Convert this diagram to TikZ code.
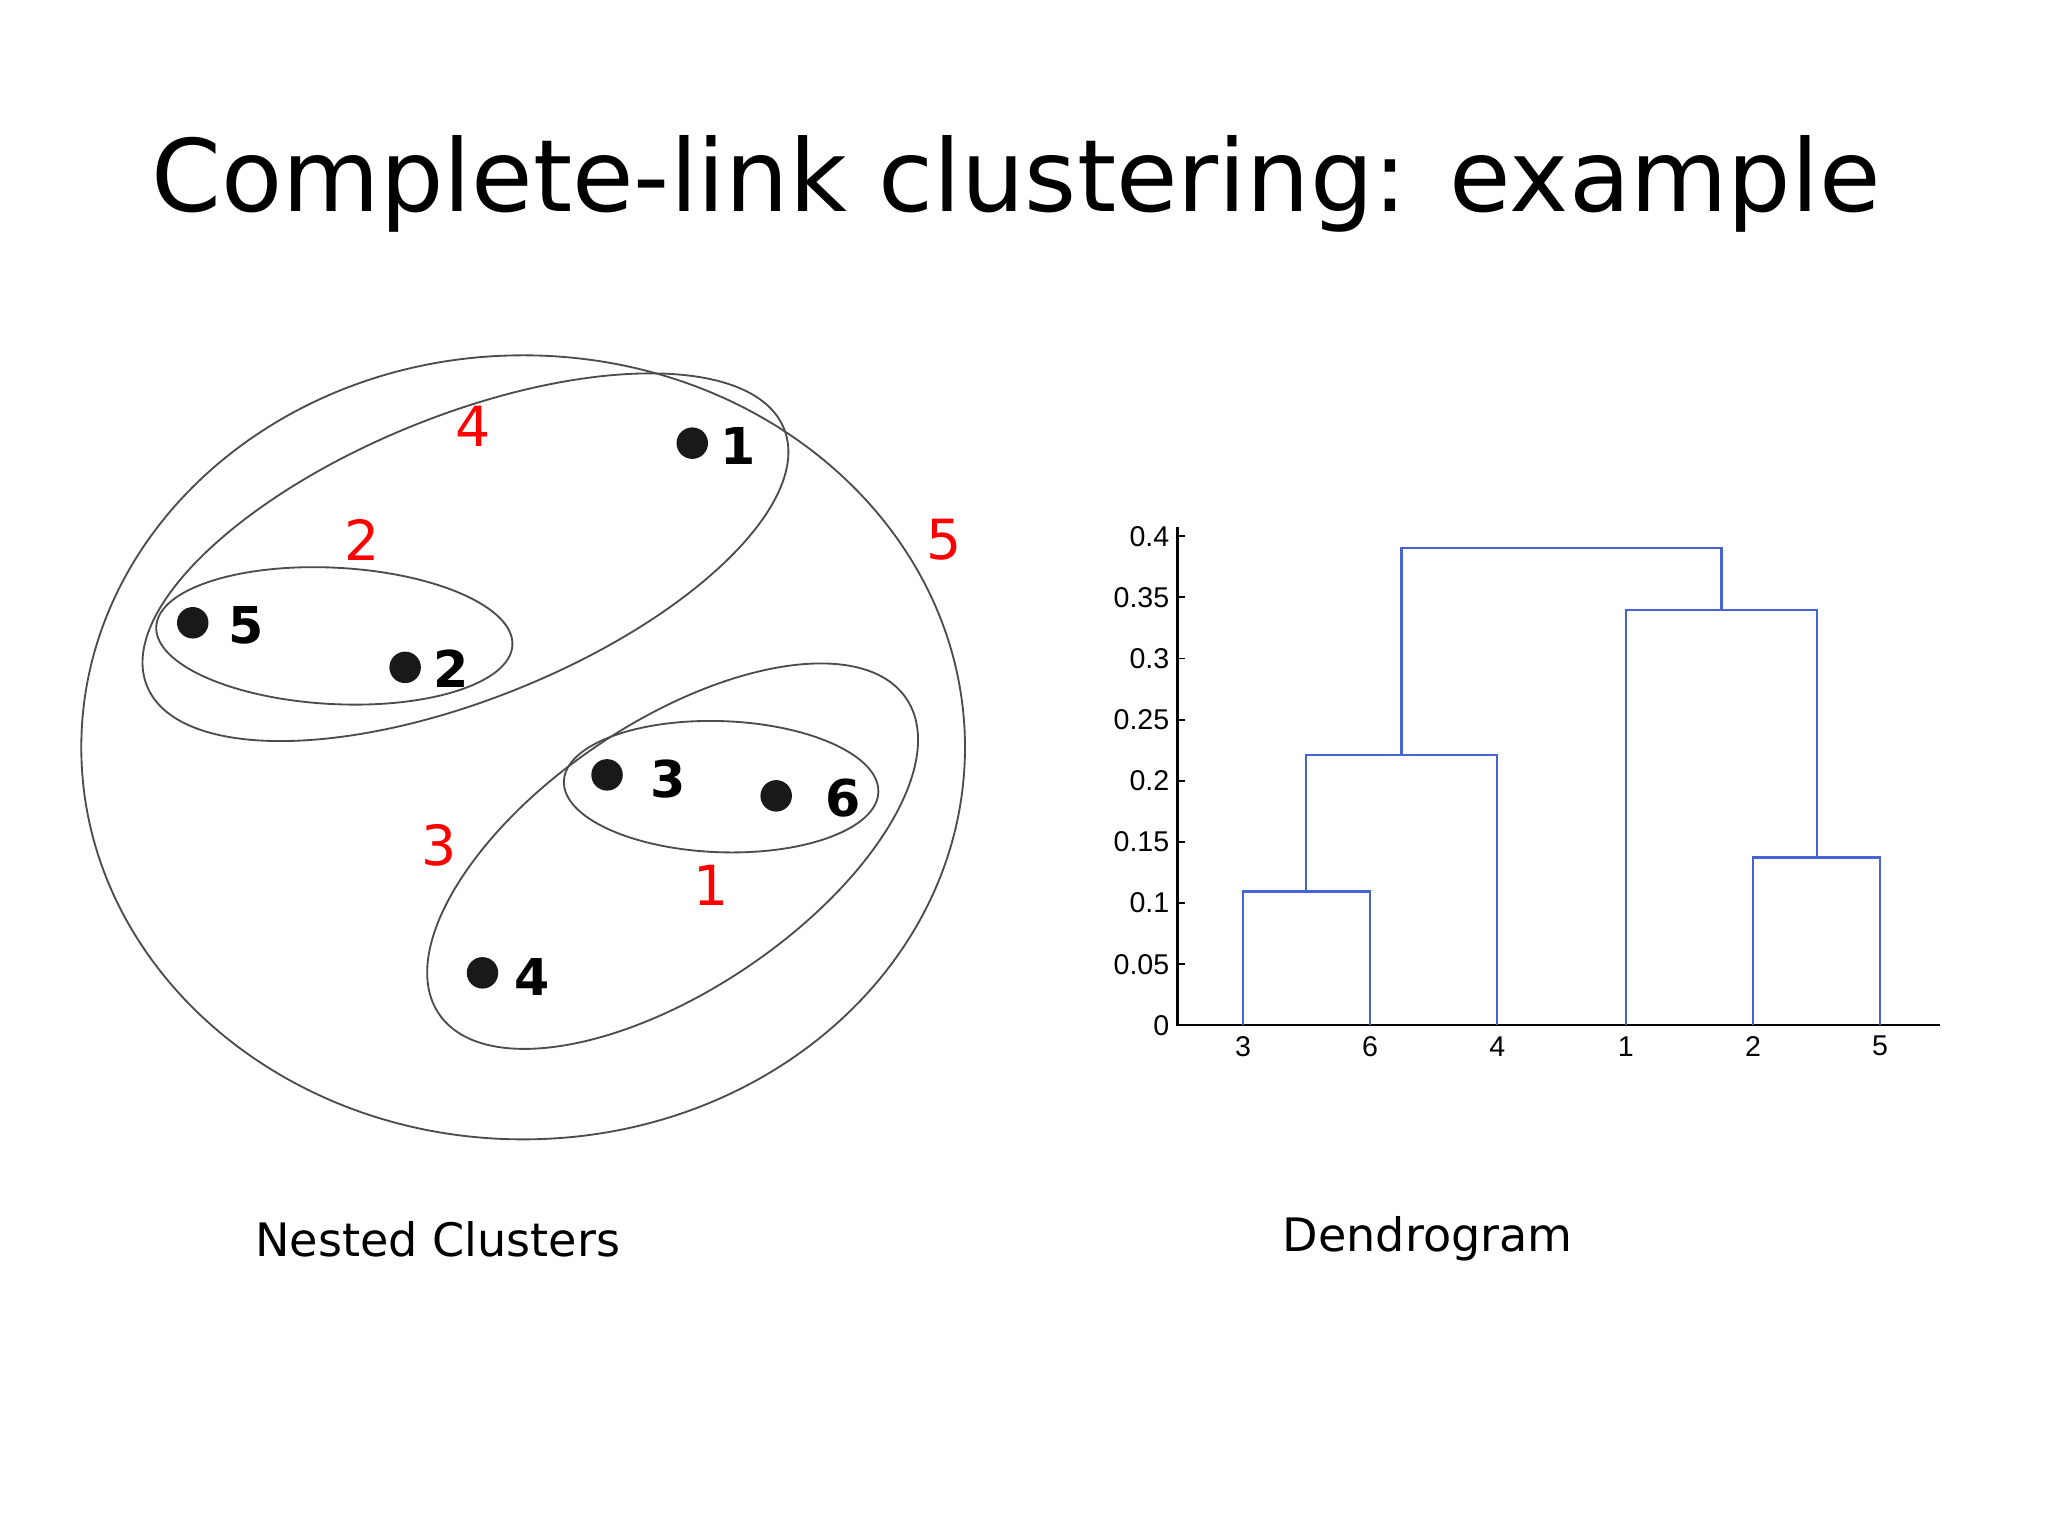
\documentclass[tikz,border=0pt]{standalone}
\usepackage{fontspec}
\setmainfont{DejaVu Sans}
\newfontfamily\helv{Liberation Sans}
\definecolor{dblue}{RGB}{70,100,210}
\begin{document}
\begin{tikzpicture}[x=0.01cm,y=-0.01cm,
  dot/.style={circle,fill=black!90,inner sep=0,minimum size=0.24cm},
  plab/.style={font=\fontsize{11}{11}\selectfont\bfseries,anchor=west},
  rlab/.style={text=red,font=\fontsize{12}{12}\selectfont},
  clus/.style={draw=black!70,line width=0.4pt},
  dend/.style={draw=dblue,line width=0.5pt},
  tick/.style={font=\helv\fontsize{6.2}{7}\selectfont}]
\useasboundingbox (0,0) rectangle (1562,1170);
\node[font=\fontsize{21.7}{22}\selectfont] (title) at (775,140) {Complete-link clustering: example};
% clusters
\draw[clus] (399,570) ellipse [x radius=337, y radius=299];
\draw[clus] (355,425) ellipse [x radius=262, y radius=108, rotate=22];
\draw[clus] (255,485) ellipse [x radius=136, y radius=52, rotate=-3];
\draw[clus] (513,653) ellipse [x radius=215, y radius=102, rotate=34];
\draw[clus] (550,600) ellipse [x radius=120, y radius=50, rotate=-2];
% points
\node[dot] (p1) at (528,338) {}; \node[plab] (l1) at (537,340) {1};
\node[dot] (p5) at (147,475) {}; \node[plab] (l5) at (162,477) {5};
\node[dot] (p2) at (309,509) {}; \node[plab] (l2) at (318,510) {2};
\node[dot] (p3) at (463,591) {}; \node[plab] (l3) at (484,594) {3};
\node[dot] (p6) at (592,607) {}; \node[plab] (l6) at (617,609) {6};
\node[dot] (p4) at (368,742) {}; \node[plab] (l4) at (380,745) {4};
% red labels
\node[rlab] (r4) at (361,325) {4};
\node[rlab] (r2) at (276,412) {2};
\node[rlab] (r5) at (720,412) {5};
\node[rlab] (r3) at (335,645) {3};
\node[rlab] (r1) at (542,675) {1};
% captions
\node[font=\fontsize{10}{10}\selectfont] (c1) at (334,945) {Nested Clusters};
\node[font=\fontsize{10}{10}\selectfont] (c2) at (1089,945) {Dendrogram};
% axes
\draw[black, line width=0.5pt] (898,402) -- (898,782) -- (1480,782);
\foreach \v/\t in {0/0,0.05/0.05,0.1/0.1,0.15/0.15,0.2/0.2,0.25/0.25,0.3/0.3,0.35/0.35,0.4/0.4}{
  \draw[line width=0.4pt] (898,{782-932.5*\v}) -- (904,{782-932.5*\v});
  \node[tick,anchor=east,inner sep=1pt] at (896,{782-932.5*\v}) {\t};
}
\foreach \x/\t in {948/3,1045/6,1142/4,1240/1,1337/2,1434/5}{
  \draw[line width=0.4pt] (\x,782) -- (\x,777);
  \node[tick] at (\x,798) {\t};
}
% dendrogram
\draw[dend] (948,782) -- (948,680) -- (1045,680) -- (1045,782);
\draw[dend] (996,680) -- (996,576) -- (1142,576) -- (1142,782);
\draw[dend] (1337,782) -- (1337,654) -- (1434,654) -- (1434,782);
\draw[dend] (1240,782) -- (1240,465) -- (1386,465) -- (1386,654);
\draw[dend] (1069,576) -- (1069,418) -- (1313,418) -- (1313,465);
\end{tikzpicture}
\end{document}
